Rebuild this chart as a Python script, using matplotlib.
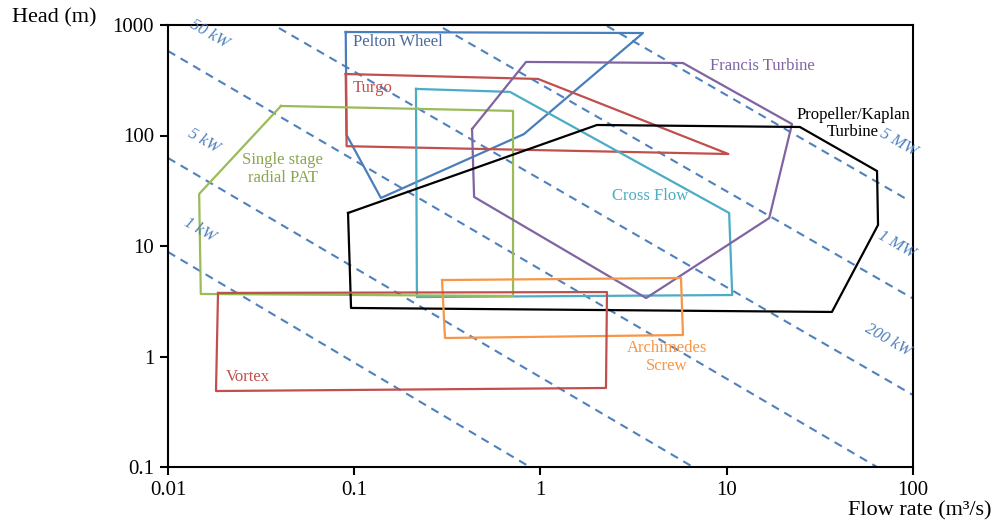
import matplotlib
matplotlib.use('Agg')
import matplotlib.pyplot as plt

plt.rcParams['font.family'] = ['Liberation Serif', 'DejaVu Serif']

# Turbine application envelopes: flow rate (m3/s) and head (m)
pelton_q = [0.090, 3.55, 0.815, 0.139, 0.091, 0.090]
pelton_h = [864, 846, 103, 27.2, 101, 864]

turgo_q = [0.090, 0.97, 10.2, 0.091, 0.090]
turgo_h = [360, 325, 68, 80, 360]

crossflow_q = [0.2145, 0.686, 10.3, 10.7, 0.217, 0.2145]
crossflow_h = [264, 248, 19.9, 3.6, 3.45, 264]

pat_q = [0.0404, 0.712, 0.712, 0.0150, 0.0147, 0.0404]
pat_h = [185, 167, 3.53, 3.68, 29.6, 185]

francis_q = [0.429, 0.836, 5.82, 22.4, 16.9, 3.69, 0.44, 0.429]
francis_h = [114.5, 463, 453, 127, 17.9, 3.38, 27.8, 114.5]

kaplan_q = [0.0926, 2.01, 24.7, 64.1, 64.9, 36.7, 0.0961, 0.0926]
kaplan_h = [19.9, 124.5, 119.4, 47.7, 15.5, 2.53, 2.75, 19.9]

archimedes_q = [0.296, 5.68, 5.82, 0.307, 0.296]
archimedes_h = [4.92, 5.13, 1.565, 1.47, 4.92]

vortex_q = [0.01856, 2.275, 2.247, 0.0181, 0.01856]
vortex_h = [3.76, 3.83, 0.519, 0.487, 3.76]

# constant power lines: start and end points (Q, H)
power_labels = ['1 kW', '5 kW', '50 kW', '200 kW', '1 MW', '5 MW']
power_q0 = [0.01, 0.01, 0.01, 0.0394, 0.2996, 2.275]
power_h0 = [8.83, 62.6, 582, 939, 939, 979]
power_q1 = [0.878, 6.59, 64.1, 100, 98.8, 94]
power_h1 = [0.1, 0.1, 0.1, 0.448, 3.38, 26.1]
# where the power labels sit
power_lab_q = [0.01485, 0.0156, 0.0166, 73.4, 81.0, 83.1]
power_lab_h = [13.96, 89.2, 829, 1.41, 10.4, 85.5]

xticks = [0.01, 0.1, 1, 10, 100]
xtick_labels = ['0.01', '0.1', '1', '10', '100']
yticks = [0.1, 1, 10, 100, 1000]
ytick_labels = ['0.1', '1', '10', '100', '1000']

fig = plt.figure(figsize=(9.95, 5.26), dpi=100)
ax = fig.add_axes([168 / 995, 1 - 467 / 526, (913 - 168) / 995, (467 - 25) / 526])
ax.set_xscale('log')
ax.set_yscale('log')

dash_col = '#4f81bd'
for i in range(len(power_labels)):
    ax.plot([power_q0[i], power_q1[i]], [power_h0[i], power_h1[i]],
            color=dash_col, lw=1.5, dashes=(4, 3))
    ax.text(power_lab_q[i], power_lab_h[i], power_labels[i], color=dash_col,
            fontsize=12, style='italic', rotation=-30, rotation_mode='anchor',
            ha='center', va='center')

lw = 1.6
ax.plot(pelton_q, pelton_h, color='#4a7ebb', lw=lw)
ax.plot(turgo_q, turgo_h, color='#c0504d', lw=lw)
ax.plot(crossflow_q, crossflow_h, color='#4bacc6', lw=lw)
ax.plot(pat_q, pat_h, color='#9bbb59', lw=lw)
ax.plot(francis_q, francis_h, color='#8064a2', lw=lw)
ax.plot(kaplan_q, kaplan_h, color='black', lw=lw)
ax.plot(archimedes_q, archimedes_h, color='#f79646', lw=lw)
ax.plot(vortex_q, vortex_h, color='#c0504d', lw=lw)

fs = 12
ax.text(0.0985, 702, 'Pelton Wheel', color='#4a6aa0', fontsize=fs, ha='left', va='center')
ax.text(0.0985, 269, 'Turgo', color='#c0504d', fontsize=fs, ha='left', va='center')
ax.text(0.0414, 49.8, 'Single stage\nradial PAT', color='#8aa64e', fontsize=fs,
        ha='center', va='center', linespacing=1.1)
ax.text(3.87, 28.4, 'Cross Flow', color='#4bacc6', fontsize=fs, ha='center', va='center')
ax.text(15.5, 426, 'Francis Turbine', color='#8064a2', fontsize=fs, ha='center', va='center')
ax.text(47.6, 128.5, 'Propeller/Kaplan\nTurbine', color='black', fontsize=fs,
        ha='center', va='center', linespacing=1.1)
ax.text(4.78, 0.99, 'Archimedes\nScrew', color='#f79646', fontsize=fs,
        ha='center', va='center', linespacing=1.1)
ax.text(0.0205, 0.652, 'Vortex', color='#c0504d', fontsize=fs, ha='left', va='center')

ax.set_xlim(0.01, 100)
ax.set_ylim(0.1, 1000)
ax.set_xticks(xticks)
ax.set_xticklabels(xtick_labels)
ax.set_yticks(yticks)
ax.set_yticklabels(ytick_labels)
ax.minorticks_off()
ax.tick_params(axis='both', which='major', labelsize=15, length=6, width=1.5,
               direction='out', pad=4, colors='black')
for sp in ax.spines.values():
    sp.set_linewidth(1.5)
    sp.set_color('black')

fig.text(12 / 995, 1 - 18 / 526, 'Head (m)', fontsize=16, ha='left', va='center')
fig.text(992 / 995, 1 - 511 / 526, 'Flow rate (m\u00b3/s)', fontsize=16, ha='right', va='center')

fig.savefig('out.png', dpi=100)
